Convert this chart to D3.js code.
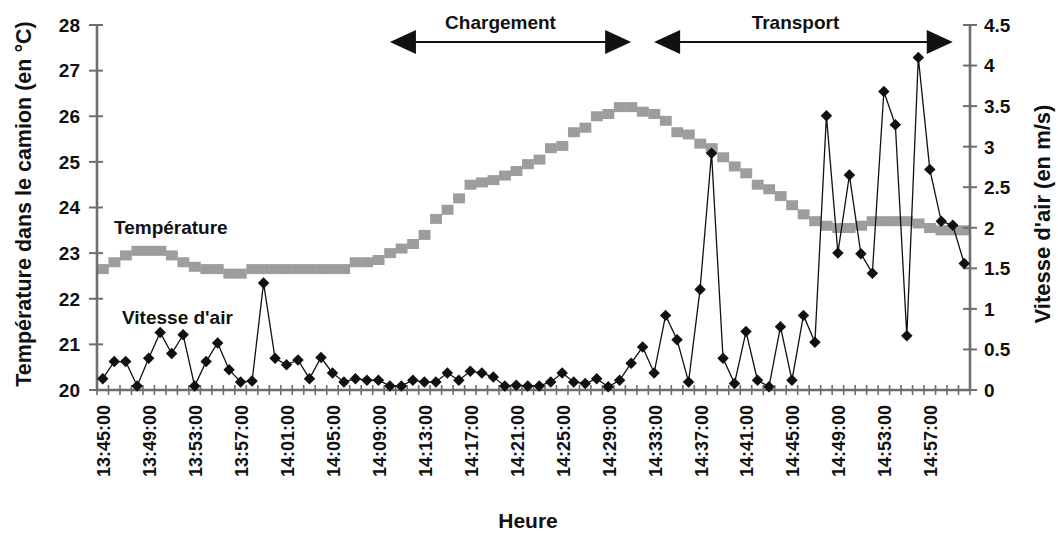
<!DOCTYPE html>
<html>
<head>
<meta charset="utf-8">
<script src="https://cdn.jsdelivr.net/npm/d3@7/dist/d3.min.js"></script>
<style>
  body { margin: 0; background: #fff; }
  svg { display: block; }
  text { font-family: "Liberation Sans", Arial, sans-serif; font-weight: bold; fill: #111; }
</style>
</head>
<body>
<svg id="chart" width="1058" height="533"></svg>
<script>
// ---- data ----
const times = ["13:45","13:46","13:47","13:48","13:49","13:50","13:51","13:52","13:53","13:54",
  "13:55","13:56","13:57","13:58","13:59","14:00","14:01","14:02","14:03","14:04",
  "14:05","14:06","14:07","14:08","14:09","14:10","14:11","14:12","14:13","14:14",
  "14:15","14:16","14:17","14:18","14:19","14:20","14:21","14:22","14:23","14:24",
  "14:25","14:26","14:27","14:28","14:29","14:30","14:31","14:32","14:33","14:34",
  "14:35","14:36","14:37","14:38","14:39","14:40","14:41","14:42","14:43","14:44",
  "14:45","14:46","14:47","14:48","14:49","14:50","14:51","14:52","14:53","14:54",
  "14:55","14:56","14:57","14:58","14:59","15:00"];

const temperature = [22.65,22.8,22.95,23.05,23.05,23.05,22.95,22.8,22.7,22.65,
  22.65,22.55,22.55,22.65,22.65,22.65,22.65,22.65,22.65,22.65,
  22.65,22.65,22.8,22.8,22.85,23.0,23.1,23.2,23.4,23.75,
  23.95,24.2,24.5,24.55,24.6,24.7,24.8,24.95,25.05,25.3,
  25.35,25.65,25.75,26.0,26.05,26.2,26.2,26.1,26.05,25.9,
  25.65,25.6,25.4,25.3,25.1,24.9,24.75,24.5,24.4,24.25,
  24.05,23.85,23.7,23.6,23.55,23.55,23.6,23.7,23.7,23.7,
  23.7,23.65,23.55,23.5,23.5,23.5];

const airSpeed = [0.14,0.35,0.35,0.05,0.39,0.71,0.45,0.68,0.05,0.35,
  0.58,0.25,0.10,0.11,1.32,0.39,0.31,0.37,0.14,0.40,
  0.21,0.10,0.14,0.12,0.12,0.05,0.05,0.12,0.10,0.10,
  0.21,0.12,0.23,0.21,0.16,0.05,0.06,0.05,0.05,0.10,
  0.21,0.10,0.08,0.14,0.04,0.12,0.33,0.53,0.21,0.92,
  0.62,0.10,1.24,2.92,0.39,0.08,0.72,0.12,0.04,0.78,
  0.12,0.92,0.59,3.38,1.69,2.65,1.68,1.44,3.68,3.27,
  0.67,4.10,2.72,2.08,2.03,1.56];

const xTickLabels = ["13:45","13:49","13:53","13:57","14:01","14:05","14:09","14:13","14:17",
  "14:21","14:25","14:29","14:33","14:37","14:41","14:45","14:49","14:53","14:57"];
const tempTicks = [20,21,22,23,24,25,26,27,28];
const speedTicks = [0,0.5,1,1.5,2,2.5,3,3.5,4,4.5];

const phases = [
  {label: "Chargement", from: "14:10", to: "14:31"},
  {label: "Transport", from: "14:33", to: "14:59"}
];

// ---- layout ----
const svg = d3.select("#chart");
const L = 97, R = 970, T = 25, B = 390;
const axisColor = "#6e6e6e";

const x = d3.scalePoint().domain(times).range([L, R]).padding(0.5);
const step = x.step();
const yT = d3.scaleLinear().domain([20, 28]).range([B, T]);
const yV = d3.scaleLinear().domain([0, 4.5]).range([B, T]);

// temperature band (grey squares)
svg.append("g").selectAll("rect").data(temperature).join("rect")
  .attr("x", (d, i) => x(times[i]) - step / 2)
  .attr("y", d => yT(d) - 5)
  .attr("width", step + 0.4)
  .attr("height", 10)
  .attr("fill", "#9d9d9d");

// axes lines
const ax = svg.append("g").attr("stroke", axisColor).attr("stroke-width", 2.6);
ax.append("line").attr("x1", L).attr("x2", L).attr("y1", T).attr("y2", B);
ax.append("line").attr("x1", R).attr("x2", R).attr("y1", T).attr("y2", B);
ax.append("line").attr("x1", L).attr("x2", R).attr("y1", B).attr("y2", B);

// left ticks
const gl = svg.append("g");
gl.selectAll("line").data(tempTicks).join("line")
  .attr("x1", L - 8).attr("x2", L + 6)
  .attr("y1", d => yT(d)).attr("y2", d => yT(d))
  .attr("stroke", axisColor).attr("stroke-width", 2);
gl.selectAll("text").data(tempTicks).join("text")
  .attr("x", L - 17).attr("y", d => yT(d)).attr("dy", "0.36em")
  .attr("text-anchor", "end").attr("font-size", 19).text(d => d);

// right ticks
const gr = svg.append("g");
gr.selectAll("line").data(speedTicks).join("line")
  .attr("x1", R - 7).attr("x2", R + 7)
  .attr("y1", d => yV(d)).attr("y2", d => yV(d))
  .attr("stroke", axisColor).attr("stroke-width", 2);
gr.selectAll("text").data(speedTicks).join("text")
  .attr("x", R + 14).attr("y", d => yV(d)).attr("dy", "0.36em")
  .attr("text-anchor", "start").attr("font-size", 19).text(d => d);

// bottom ticks (category boundaries)
const gb = svg.append("g");
gb.selectAll("line").data(times.concat(["end"])).join("line")
  .attr("x1", (d, i) => L + i * step).attr("x2", (d, i) => L + i * step)
  .attr("y1", B - 5).attr("y2", B + 5)
  .attr("stroke", axisColor).attr("stroke-width", 1.6);
gb.selectAll("text").data(xTickLabels).join("text")
  .attr("transform", d => `translate(${x(d) + 1},${B + 15}) rotate(-90)`)
  .attr("dy", "0.36em").attr("text-anchor", "end")
  .attr("font-size", 18).text(d => d + ":00");

// air speed line + diamonds
const line = d3.line().x((d, i) => x(times[i])).y(d => yV(d));
svg.append("path").datum(airSpeed)
  .attr("d", line).attr("fill", "none").attr("stroke", "#111").attr("stroke-width", 1.3);
svg.append("g").selectAll("path").data(airSpeed).join("path")
  .attr("d", d3.symbol(d3.symbolSquare, 66))
  .attr("transform", (d, i) => `translate(${x(times[i])},${yV(d)}) rotate(45)`)
  .attr("fill", "#111");

// phase arrows
const ga = svg.append("g");
const ay = 42, head = 26, hh = 12;
phases.forEach((p, k) => {
  const x1 = x(p.from), x2 = x(p.to);
  ga.append("line").attr("x1", x1 + head - 2).attr("x2", x2 - head + 2)
    .attr("y1", ay).attr("y2", ay).attr("stroke", "#111").attr("stroke-width", 2.2);
  ga.append("path").attr("d", `M${x1},${ay} L${x1 + head},${ay - hh} L${x1 + head},${ay + hh} Z`).attr("fill", "#111");
  ga.append("path").attr("d", `M${x2},${ay} L${x2 - head},${ay - hh} L${x2 - head},${ay + hh} Z`).attr("fill", "#111");
  ga.append("text").attr("x", (x1 + x2) / 2 + (k === 0 ? -10 : -8)).attr("y", 29)
    .attr("text-anchor", "middle").attr("font-size", 19).text(p.label);
});

// series labels
svg.append("text").attr("x", 114).attr("y", 234).attr("font-size", 19).text("Température");
svg.append("text").attr("x", 122).attr("y", 324).attr("font-size", 19).text("Vitesse d'air");

// axis titles
svg.append("text").attr("transform", `translate(31,204) rotate(-90)`)
  .attr("text-anchor", "middle").attr("font-size", 21.5).text("Température dans le camion (en °C)");
svg.append("text").attr("transform", `translate(1050,214) rotate(-90)`)
  .attr("text-anchor", "middle").attr("font-size", 22).text("Vitesse d'air (en m/s)");
svg.append("text").attr("x", 528).attr("y", 528)
  .attr("text-anchor", "middle").attr("font-size", 21).text("Heure");
</script>
</body>
</html>
